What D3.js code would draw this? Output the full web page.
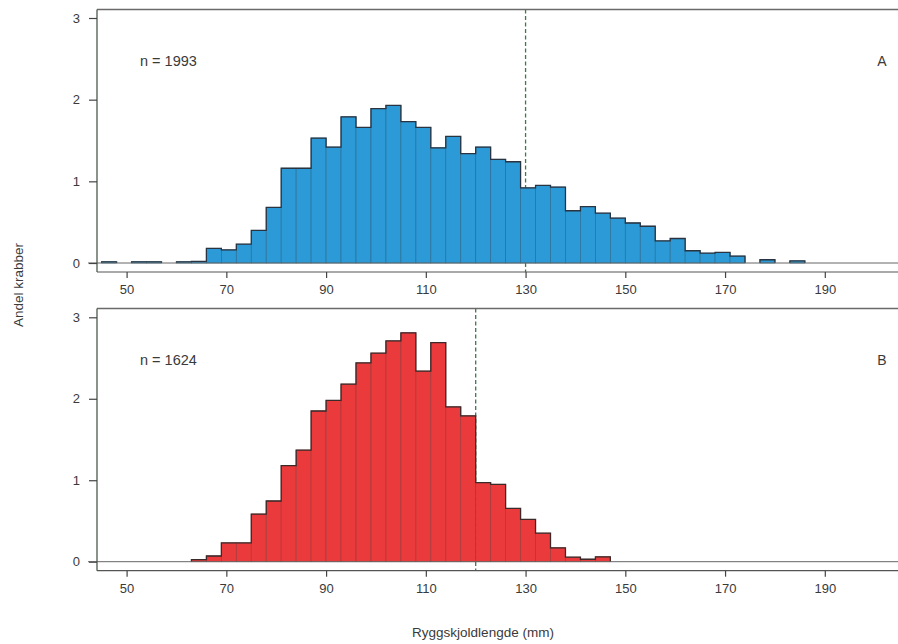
<!DOCTYPE html>
<html>
<head>
<meta charset="utf-8">
<script src="https://cdn.jsdelivr.net/npm/d3@7/dist/d3.min.js"></script>
<style>
  html, body { margin: 0; padding: 0; background: #fff; }
  svg { display: block; }
  text { font-family: "Liberation Sans", Arial, sans-serif; fill: #3a3a3a; }
</style>
</head>
<body>
<svg id="chart" width="898" height="644"></svg>
<script>
// ---- data ----
const binWidth = 3; // mm
const binStartsA = [45,48,51,54,57,60,63,66,69,72,75,78,81,84,87,90,93,96,99,102,105,108,111,114,117,120,123,126,129,132,135,138,141,144,147,150,153,156,159,162,165,168,171,174,177,180,183];
const valuesA    = [0.015,0,0.015,0.015,0,0.015,0.02,0.18,0.16,0.23,0.40,0.68,1.16,1.16,1.53,1.42,1.79,1.66,1.89,1.93,1.73,1.66,1.41,1.55,1.34,1.42,1.27,1.24,0.92,0.95,0.93,0.64,0.69,0.61,0.55,0.49,0.45,0.27,0.30,0.15,0.12,0.13,0.085,0,0.04,0,0.025];
const binStartsB = [63,66,69,72,75,78,81,84,87,90,93,96,99,102,105,108,111,114,117,120,123,126,129,132,135,138,141,144];
const valuesB    = [0.025,0.07,0.23,0.23,0.585,0.745,1.18,1.37,1.85,1.98,2.18,2.44,2.56,2.71,2.81,2.34,2.69,1.90,1.79,0.97,0.95,0.655,0.52,0.35,0.17,0.055,0.03,0.06];
const xTicks = [50,70,90,110,130,150,170,190];
const yTicks = [0,1,2,3];
const panelLabels = ["A","B"];
const nLabels = ["n = 1993","n = 1624"];
const cutoffs = [130,120];
const xTitle = "Ryggskjoldlengde (mm)";
const yTitle = "Andel krabber";

// ---- layout ----
const svg = d3.select("#chart");
const left = 97, right = 898;
const x = d3.scaleLinear().domain([50,190]).range([126.6,824.8]);

const panels = [
  {top: 9.5, bottom: 272, y0: 263, y3: 18, starts: binStartsA, vals: valuesA, fill: "#2c9ad6", edge: "#2a6f98", outline: "#2a3440"},
  {top: 308.5, bottom: 570.7, y0: 561.7, y3: 317.3, starts: binStartsB, vals: valuesB, fill: "#ea3a3c", edge: "#a33a3a", outline: "#3a2a2a"}
];

panels.forEach((p, i) => {
  const g = svg.append("g");
  const y = d3.scaleLinear().domain([0,3]).range([p.y0, p.y3]);

  // dashed cutoff line (behind bars)
  g.append("line")
    .attr("x1", x(cutoffs[i])).attr("x2", x(cutoffs[i]))
    .attr("y1", p.top).attr("y2", p.bottom)
    .attr("stroke", "#3d7a4a").attr("stroke-width", 1.3)
    .attr("stroke-dasharray", "4,2.5");

  const data = p.starts.map((s, k) => ({s, v: p.vals[k]})).filter(d => d.v > 0);

  // bars
  g.selectAll("rect.bar").data(data).enter().append("rect")
    .attr("class", "bar")
    .attr("x", d => x(d.s))
    .attr("width", d => x(d.s + binWidth) - x(d.s))
    .attr("y", d => y(d.v))
    .attr("height", d => y(0) - y(d.v))
    .attr("fill", p.fill)
    .attr("stroke", p.edge)
    .attr("stroke-width", 0.7);

  // step outline of histogram
  const segs = [];
  let cur = null;
  p.starts.forEach((s, k) => {
    const v = p.vals[k];
    if (v > 0) {
      if (!cur) { cur = [[x(s), y(0)]]; }
      cur.push([x(s), y(v)], [x(s + binWidth), y(v)]);
      const nextV = k + 1 < p.vals.length ? p.vals[k+1] : 0;
      const nextS = k + 1 < p.starts.length ? p.starts[k+1] : null;
      if (nextV <= 0 || nextS !== s + binWidth) {
        cur.push([x(s + binWidth), y(0)]);
        segs.push(cur); cur = null;
      }
    }
  });
  g.selectAll("path.step").data(segs).enter().append("path")
    .attr("class", "step")
    .attr("d", d3.line())
    .attr("fill", "none")
    .attr("stroke", p.outline)
    .attr("stroke-width", 1.3);

  // baseline at y = 0
  g.append("line")
    .attr("x1", left - 9).attr("x2", right)
    .attr("y1", y(0)).attr("y2", y(0))
    .attr("stroke", "#666").attr("stroke-width", 1);

  // frame: top, left, bottom
  g.append("line").attr("x1", left).attr("x2", right).attr("y1", p.top).attr("y2", p.top)
    .attr("stroke", "#6a6a6a").attr("stroke-width", 1.6);
  g.append("line").attr("x1", left).attr("x2", left).attr("y1", p.top).attr("y2", p.bottom)
    .attr("stroke", "#4a5a4c").attr("stroke-width", 1.3);
  g.append("line").attr("x1", left).attr("x2", right).attr("y1", p.bottom).attr("y2", p.bottom)
    .attr("stroke", "#555").attr("stroke-width", 1.2);

  // x axis ticks
  const xAxis = g.append("g").attr("transform", `translate(0,${p.bottom})`)
    .call(d3.axisBottom(x).tickValues(xTicks).tickSize(6).tickPadding(7).tickFormat(d3.format("d")));
  xAxis.select(".domain").remove();
  xAxis.selectAll("line").attr("stroke", "#444").attr("stroke-width", 1.2);
  xAxis.selectAll("text").style("font-size", "13px").attr("fill", "#3a3a3a");

  // y axis ticks
  const yAxis = g.append("g").attr("transform", `translate(${left},0)`)
    .call(d3.axisLeft(y).tickValues(yTicks).tickSize(8).tickPadding(9).tickFormat(d3.format("d")));
  yAxis.select(".domain").remove();
  yAxis.selectAll("line").attr("stroke", "#444").attr("stroke-width", 1.2);
  yAxis.selectAll("text").style("font-size", "13px").attr("fill", "#3a3a3a");

  // labels
  g.append("text").attr("x", 140).attr("y", p.top + 56).style("font-size", "14.5px").text(nLabels[i]);
  g.append("text").attr("x", 882).attr("y", p.top + 56).attr("text-anchor", "middle").style("font-size", "14px").text(panelLabels[i]);
});

// axis titles
svg.append("text").attr("x", 483).attr("y", 637).attr("text-anchor", "middle")
  .style("font-size", "13.5px").text(xTitle);
svg.append("text").attr("transform", "translate(23,285) rotate(-90)").attr("text-anchor", "middle")
  .style("font-size", "13.5px").text(yTitle);
</script>
</body>
</html>
